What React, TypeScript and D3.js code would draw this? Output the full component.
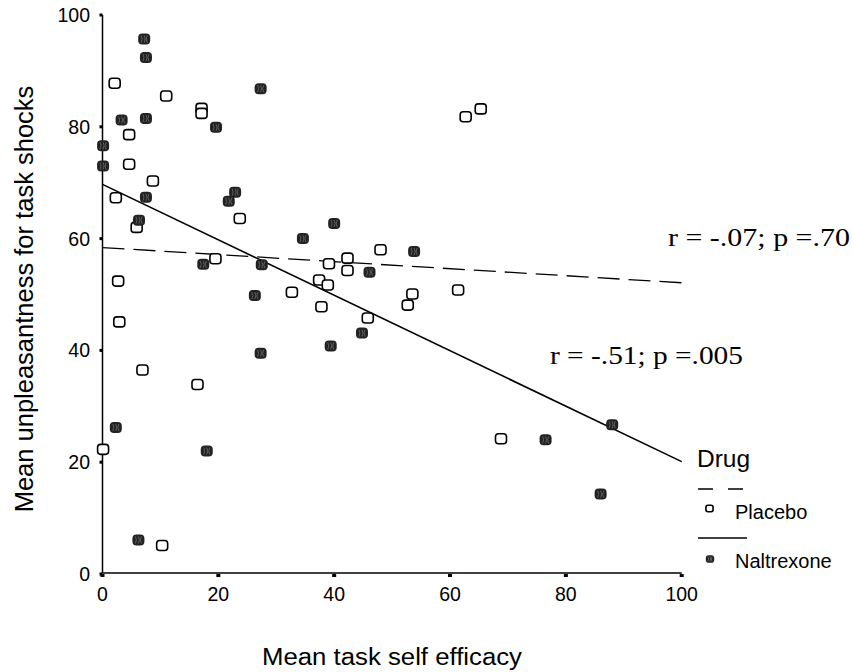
import React from "react";
import * as d3 from "d3";

// Mean task self efficacy (x) and mean unpleasantness (y) per participant
const placeboX = [2.1, 11.0, 17.1, 17.1, 4.6, 4.6, 8.7, 2.3, 5.9, 23.7, 19.5, 2.7, 32.7, 2.9, 6.9, 16.4, 0.1, 10.3, 48.0, 42.3, 39.1, 42.3, 37.4, 38.9, 53.5, 61.4, 52.7, 37.8, 45.8, 68.8, 62.7, 65.3];
const placeboY = [87.8, 85.5, 83.3, 82.4, 78.6, 73.3, 70.3, 67.3, 62.0, 63.6, 56.4, 52.4, 50.4, 45.1, 36.5, 33.9, 22.3, 5.1, 58.0, 56.5, 55.5, 54.3, 52.6, 51.7, 50.1, 50.8, 48.1, 47.8, 45.8, 24.2, 81.8, 83.2];
const naltrexoneX = [7.2, 7.5, 27.3, 3.3, 7.5, 19.6, 0.1, 0.1, 22.9, 21.8, 7.5, 6.3, 34.6, 17.4, 27.5, 26.3, 27.3, 2.3, 18.0, 6.2, 40.0, 53.8, 46.1, 44.8, 39.4, 88.0, 76.5, 86.0];
const naltrexoneY = [95.7, 92.4, 86.8, 81.2, 81.5, 79.9, 76.6, 73.0, 68.3, 66.7, 67.4, 63.3, 60.0, 55.4, 55.3, 49.8, 39.5, 26.2, 22.0, 6.1, 62.7, 57.7, 54.0, 43.1, 40.8, 26.7, 24.0, 14.3];

// Fit lines: value at x = 0 and at x = 100
const placeboFit = [58.4, 52.1];
const naltrexoneFit = [69.7, 20.1];

const ticks = [0, 20, 40, 60, 80, 100];
const placeboLabel = "r = -.07; p =.70";
const naltrexoneLabel = "r = -.51; p =.005";

const W = 853;
const H = 672;
const x = d3.scaleLinear().domain([0, 100]).range([102.5, 681.7]);
const y = d3.scaleLinear().domain([0, 100]).range([574, 15]);

const sans = "Liberation Sans, Arial, sans-serif";
const serif = "Liberation Serif, Times New Roman, serif";

function OpenMarker({ cx, cy, s = 1 }: { cx: number; cy: number; s?: number }) {
  return (
    <rect x={cx - 5.5 * s} y={cy - 5 * s} width={11 * s} height={10 * s} rx={3 * s} ry={3 * s}
      fill="white" stroke="black" strokeWidth={1.6} />
  );
}

function FilledMarker({ cx, cy, s = 1 }: { cx: number; cy: number; s?: number }) {
  const k = s;
  return (
    <g>
      <rect x={cx - 6 * k} y={cy - 5.5 * k} width={12 * k} height={11 * k} rx={4 * k} ry={4 * k} fill="#222" />
      <path d={`M${cx - 3 * k},${cy - 3.5 * k}q${2 * k},${3.5 * k} 0,${7 * k} M${cx},${cy - 3.5 * k}q${2 * k},${3.5 * k} 0,${7 * k} M${cx + 3 * k},${cy - 3.5 * k}q${-2 * k},${3.5 * k} 0,${7 * k}`}
        fill="none" stroke="#777" strokeWidth={0.7} />
    </g>
  );
}

export default function App() {
  const line = d3.line<[number, number]>().x((d) => x(d[0])).y((d) => y(d[1]));
  const pFit = line([[0, placeboFit[0]], [100, placeboFit[1]]]) || "";
  const nFit = line([[0, naltrexoneFit[0]], [100, naltrexoneFit[1]]]) || "";

  return (
    <svg width={W} height={H} style={{ position: "absolute", left: 0, top: 0, background: "white" }}>
      {/* axes */}
      <line x1={x(0)} x2={x(0)} y1={y(100)} y2={y(0) - 1} stroke="black" strokeWidth={1.5} />
      <line x1={x(0)} x2={x(100)} y1={573} y2={573} stroke="black" strokeWidth={1.5} />
      {ticks.map((t) => (
        <g key={"y" + t}>
          <rect x={x(0) - 3} y={y(t) - 1.5} width={3} height={3} fill="black" />
          <text x={90} y={y(t) + 7} textAnchor="end" fontFamily={sans} fontSize={19.5}>{t}</text>
        </g>
      ))}
      {ticks.map((t) => (
        <g key={"x" + t}>
          <rect x={x(t) - 2} y={574} width={4} height={3} fill="black" />
          <text x={x(t)} y={601} textAnchor="middle" fontFamily={sans} fontSize={19.5}>{t}</text>
        </g>
      ))}

      {/* fit lines */}
      <path d={pFit} fill="none" stroke="black" strokeWidth={1.3} strokeDasharray="22,9" />
      <path d={nFit} fill="none" stroke="black" strokeWidth={1.6} />

      {/* points */}
      {placeboX.map((v, i) => <OpenMarker key={"p" + i} cx={x(v)} cy={y(placeboY[i])} />)}
      {naltrexoneX.map((v, i) => <FilledMarker key={"n" + i} cx={x(v)} cy={y(naltrexoneY[i])} />)}

      {/* annotations */}
      <text x={668} y={246} fontFamily={serif} fontSize={26} textLength={182} lengthAdjust="spacingAndGlyphs">{placeboLabel}</text>
      <text x={550} y={364} fontFamily={serif} fontSize={26} textLength={193} lengthAdjust="spacingAndGlyphs">{naltrexoneLabel}</text>

      {/* axis titles */}
      <text x={392} y={665} textAnchor="middle" fontFamily={sans} fontSize={23.5} textLength={260} lengthAdjust="spacingAndGlyphs">Mean task self efficacy</text>
      <text transform="translate(33,299) rotate(-90)" textAnchor="middle" fontFamily={sans} fontSize={25.5}>
        Mean unpleasantness for task shocks
      </text>

      {/* legend */}
      <text x={697} y={467} fontFamily={sans} fontSize={24.5}>Drug</text>
      <line x1={698} x2={747} y1={489} y2={489} stroke="black" strokeWidth={1.3} strokeDasharray="15,15" />
      <OpenMarker cx={709.5} cy={508.5} s={0.65} />
      <text x={735} y={519} fontFamily={sans} fontSize={20}>Placebo</text>
      <line x1={698} x2={747} y1={538} y2={538} stroke="black" strokeWidth={1.5} />
      <FilledMarker cx={710} cy={559} s={0.7} />
      <text x={735} y={568} fontFamily={sans} fontSize={20}>Naltrexone</text>
    </svg>
  );
}
